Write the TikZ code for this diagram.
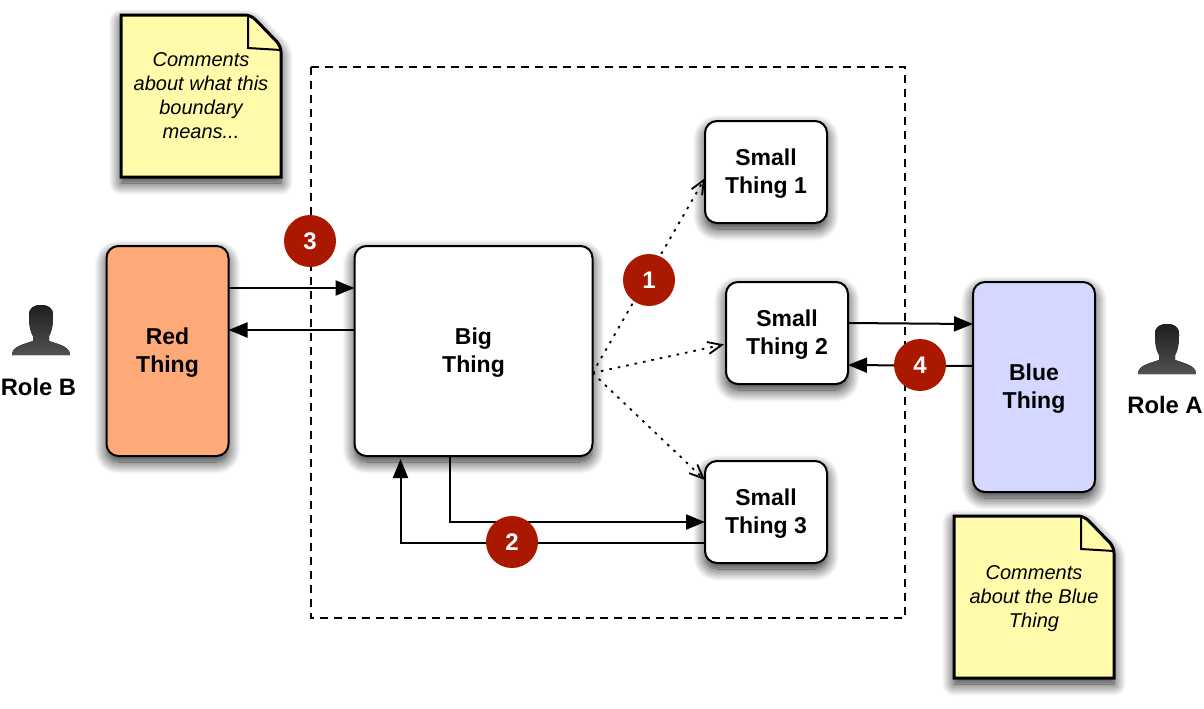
\documentclass[tikz,border=0pt]{standalone}
\usepackage{fontspec}
\setmainfont{Liberation Sans}
\usetikzlibrary{positioning,arrows.meta,backgrounds,shadows.blur}

\definecolor{redfill}{RGB}{254,170,120}
\definecolor{bluefill}{RGB}{212,215,255}
\definecolor{notefill}{RGB}{255,251,170}
\definecolor{badgefill}{RGB}{170,24,0}

\tikzset{
  softshadow/.style={blur shadow={shadow xshift=0pt,shadow yshift=-3pt,shadow blur radius=6pt,shadow blur steps=14,shadow opacity=85}},
  thing/.style={draw,line width=1pt,rounded corners=6pt,fill=white,outer sep=0pt,inner sep=0pt,text depth=0.5pt,
    align=center,minimum width=61pt,font=\fontsize{11.5}{14}\selectfont\bfseries,softshadow},
  notetext/.style={minimum width=80pt,minimum height=81pt,inner sep=0pt,outer sep=0pt,align=center,text depth=0pt,
    font=\fontsize{10}{12}\selectfont\itshape},
  badge/.style={circle,fill=badgefill,text=white,minimum size=26pt,inner sep=0pt,
    font=\fontsize{12}{14}\selectfont\bfseries},
  rolelabel/.style={font=\fontsize{11.9}{14}\selectfont\bfseries,inner sep=0pt},
  solid arrow/.style={line width=1pt,-{Triangle[length=9.5pt,width=7.5pt]}},
  dotted arrow/.style={line width=0.9pt,dash pattern=on 1.3pt off 3pt,-{Straight Barb[length=7pt,width=6pt]}},
  person/.pic={
    \fill[top color=black!88,bottom color=black!68] (-29,50) .. controls (-29,42) and (-20,40) .. (-8,36) -- (-8,31)
      .. controls (-12,25) and (-12,14) .. (-12,10) .. controls (-12,2) and (-6,0) .. (0,0)
      .. controls (6,0) and (12,2) .. (12,10) .. controls (12,14) and (12,25) .. (8,31) -- (8,36)
      .. controls (20,40) and (29,42) .. (29,50) -- cycle;
  }
}

\begin{document}
\begin{tikzpicture}[x=0.5pt,y=-0.5pt]
  \useasboundingbox (0,0) rectangle (1204,708);

  %boundary
  \coordinate (edgeA) at (311,67);
  \coordinate (edgeB) at (905,618);
  \draw[line width=0.9pt,dash pattern=on 4pt off 3pt] (edgeA) rectangle (edgeB);

  \node[thing,minimum width=119pt,minimum height=105pt] (big) at (473.5,351) {Big\\Thing};
  \node[thing,fill=redfill,minimum height=105pt,left=63pt of big] (red) {Red\\Thing};
  \node[thing,minimum height=51pt] (small2) at (787,333) {Small\\Thing 2};
  \node[thing,minimum height=51pt,above=29.5pt of small2,xshift=-10.5pt] (small1) {Small\\Thing 1};
  \node[thing,minimum height=51pt,below=38.5pt of small2,xshift=-10.5pt] (small3) {Small\\Thing 3};
  \node[thing,fill=bluefill,minimum height=105pt,right=62.5pt of small2,yshift=-27pt] (blue) {Blue\\Thing};

  \node[notetext] (note1) at (201,96) {Comments\\about what this\\boundary\\means...};
  \node[notetext,below=12pt of blue] (note2) {Comments\\about the Blue\\Thing};

  \begin{scope}[on background layer]
    \foreach \n in {note1,note2} {
      \draw[line width=1.5pt,fill=notefill,softshadow] (\n.south west) -- (\n.north west)
        -- ([xshift=-19pt]\n.north east) [rounded corners=3pt] -- ([xshift=-15pt]\n.north east)
        -- ([yshift=-15.5pt]\n.north east) [sharp corners] -- ([yshift=-20pt]\n.north east) -- (\n.south east) -- cycle;
      \draw[line width=1pt] ([xshift=-16.5pt]\n.north east) -- ([xshift=-16.5pt,yshift=-16.5pt]\n.north east)
        -- ([yshift=-17.5pt]\n.north east);
    }
  \end{scope}

  %red>big
  \draw[solid arrow] ([yshift=31.5pt]red.east) -- ([yshift=31.5pt]big.west);
  %big>red
  \draw[solid arrow] ([yshift=10.5pt]big.west) -- ([yshift=10.5pt]red.east);

  %small2>blue
  \draw[solid arrow] ([yshift=5pt]small2.east) -- ([yshift=31.5pt]blue.west);
  %blue>small2
  \draw[solid arrow] ([yshift=10.5pt]blue.west) -- ([yshift=-16pt]small2.east);

  %big>small3
  \draw[solid arrow] ([xshift=-12pt]big.south) |- ([yshift=-5pt]small3.west);
  %small3>big
  \draw[solid arrow,shorten >=1.5pt] ([yshift=-15.5pt]small3.west) -| ([xshift=-36.5pt]big.south);

  %big>small
  \draw[dotted arrow] ([yshift=-11pt]big.east) -- ([yshift=-3pt]small1.west);
  \draw[dotted arrow,shorten >=1pt] ([yshift=-11pt]big.east) -- ([yshift=-5.5pt]small2.west);
  \draw[dotted arrow] ([yshift=-11pt]big.east) -- ([yshift=16pt]small3.west);

  \node[badge] (b1) at (649,280) {1};
  \node[badge] (b2) at (512,542) {2};
  \node[badge] (b3) at (310,241) {3};
  \node[badge] (b4) at (920,365) {4};

  \pic at (41,305) {person};
  \node[rolelabel] (roleb) at (38.5,387) {Role B};
  \pic at (1167,324) {person};
  \node[rolelabel] (rolea) at (1165,405) {Role A};
\end{tikzpicture}
\end{document}
